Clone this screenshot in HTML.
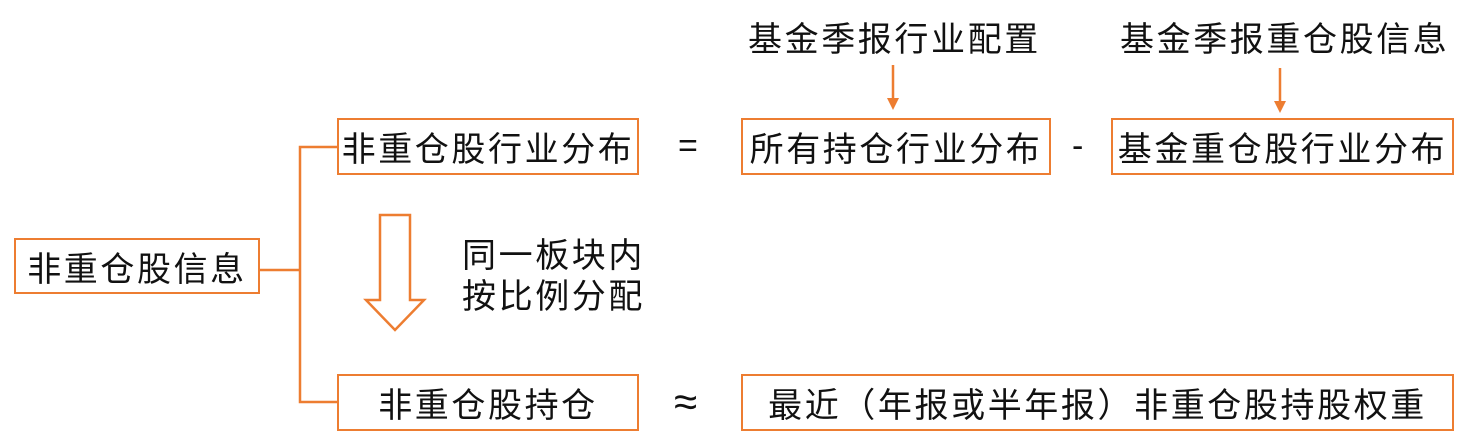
<!DOCTYPE html>
<html><head><meta charset="utf-8"><style>
body{margin:0;width:1467px;height:441px;background:#fff;position:relative;overflow:hidden;font-family:"Liberation Sans","Noto Sans CJK SC",sans-serif;color:#111}
.b{position:absolute;border:2.5px solid #ED7D31;box-sizing:border-box;display:flex;align-items:center;justify-content:center;font-size:34px;letter-spacing:2.6px;white-space:nowrap}
.t{position:absolute;font-size:34px;letter-spacing:2.6px;white-space:nowrap;line-height:40px}
</style></head><body>
<svg width="1467" height="441" style="position:absolute;left:0;top:0">
<g stroke="#ED7D31" stroke-width="2.5" fill="none">
<polyline points="337,147 300,147 300,402 337,402"/>
<line x1="259" y1="270" x2="300" y2="270"/>
<line x1="893" y1="65" x2="893" y2="100"/>
<line x1="1280" y1="68" x2="1280" y2="103"/>
<polygon points="380,215 410,215 410,300 424,300 395,330 366,300 380,300" fill="#fff"/>
</g>
<polygon points="887,98 899,98 893,110" fill="#ED7D31"/>
<polygon points="1274,101 1286,101 1280,113" fill="#ED7D31"/>
</svg>
<div class="b" style="left:14px;top:238px;width:246px;height:56px">非重仓股信息</div>
<div class="b" style="left:337px;top:118px;width:302px;height:57px">非重仓股行业分布</div>
<div class="b" style="left:741px;top:118px;width:310px;height:57px">所有持仓行业分布</div>
<div class="b" style="left:1111px;top:118px;width:343px;height:57px">基金重仓股行业分布</div>
<div class="b" style="left:337px;top:374px;width:302px;height:57px">非重仓股持仓</div>
<div class="b" style="left:741px;top:374px;width:713px;height:57px">最近（年报或半年报）非重仓股持股权重</div>
<div class="t" style="left:678px;top:126px">=</div>
<div class="t" style="left:1072px;top:126px">-</div>
<div class="t" style="left:674px;top:382px;font-size:42px">≈</div>
<div class="t" style="left:748px;top:20px">基金季报行业配置</div>
<div class="t" style="left:1120px;top:20px">基金季报重仓股信息</div>
<div class="t" style="left:462px;top:236px">同一板块内</div>
<div class="t" style="left:462px;top:277px">按比例分配</div>
</body></html>
